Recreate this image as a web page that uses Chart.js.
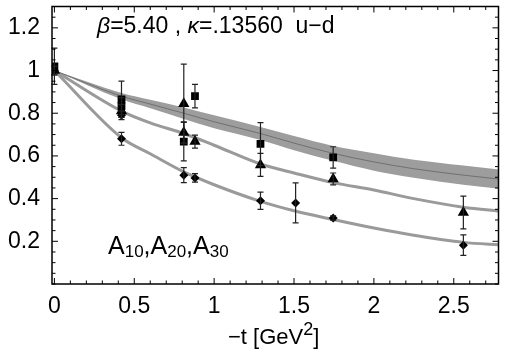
<!DOCTYPE html>
<html>
<head>
<meta charset="utf-8">
<script src="https://cdn.jsdelivr.net/npm/chart.js@4.4.1/dist/chart.umd.min.js"></script>
<style>
  html, body { margin: 0; padding: 0; background: #fff; }
  #wrap { width: 505px; height: 351px; }
</style>
</head>
<body>
<div id="wrap"><canvas id="formFactorChart"></canvas></div>
<script>
// lattice data, x = -t in GeV^2
const tA10 = [0, 0.42, 0.42, 0.81, 0.88, 1.29, 1.745];
const valA10 = [1.02, 0.865, 0.833, 0.667, 0.88, 0.656, 0.593];
const errA10 = [0.085, 0.085, 0.04, 0.09, 0.055, 0.1, 0.05];

const tA20 = [0, 0.42, 0.81, 0.81, 0.88, 1.29, 1.745, 2.56];
const valA20 = [1.0, 0.81, 0.845, 0.71, 0.667, 0.558, 0.492, 0.335];
const errA20 = [0.02, 0.03, 0.185, 0.05, 0.03, 0.054, 0.028, 0.077];

const tA30 = [0, 0.42, 0.42, 0.81, 0.88, 1.29, 1.51, 1.745, 2.56];
const valA30 = [1.0, 0.79, 0.68, 0.51, 0.497, 0.39, 0.38, 0.309, 0.182];
const errA30 = [0.02, 0.02, 0.03, 0.035, 0.02, 0.04, 0.094, 0.01, 0.048];

// dipole fits
const tFit = [0, 0.42, 0.6, 0.81, 1.0, 1.29, 1.5, 1.745, 2.0, 2.25, 2.56, 2.8];
const fitA10 = [1, 0.88, 0.843, 0.80, 0.76, 0.705, 0.66, 0.612, 0.572, 0.54, 0.51, 0.49];
const fitA10Hi = [1, 0.895, 0.863, 0.827, 0.79, 0.735, 0.693, 0.647, 0.613, 0.582, 0.555, 0.535];
const fitA10Lo = [1, 0.865, 0.823, 0.773, 0.73, 0.675, 0.627, 0.577, 0.531, 0.498, 0.465, 0.445];
const fitA20 = [1, 0.81, 0.755, 0.705, 0.65, 0.562, 0.52, 0.475, 0.44, 0.4, 0.36, 0.34];
const fitA30 = [1, 0.685, 0.61, 0.525, 0.465, 0.387, 0.343, 0.302, 0.262, 0.228, 0.195, 0.183];

const FONT = '"Liberation Sans", Arial, Helvetica, sans-serif';

const pts = (xs, ys) => xs.map((x, i) => ({ x: x, y: ys[i] }));

const errorBars = {
  id: 'errorBars',
  afterDatasetsDraw(chart) {
    const { ctx, scales: { x, y } } = chart;
    ctx.save();
    ctx.strokeStyle = '#222';
    ctx.lineWidth = 1.2;
    [[tA10, valA10, errA10], [tA20, valA20, errA20], [tA30, valA30, errA30]].forEach(([ts, vs, es]) => {
      ts.forEach((t, i) => {
        const px = x.getPixelForValue(t);
        const top = y.getPixelForValue(vs[i] + es[i]);
        const bot = y.getPixelForValue(vs[i] - es[i]);
        ctx.beginPath();
        ctx.moveTo(px, top); ctx.lineTo(px, bot);
        ctx.moveTo(px - 3, top); ctx.lineTo(px + 3, top);
        ctx.moveTo(px - 3, bot); ctx.lineTo(px + 3, bot);
        ctx.stroke();
      });
    });
    ctx.restore();
  }
};

// frame with inward ticks, like the original
const frame = {
  id: 'frame',
  afterDraw(chart) {
    const { ctx, chartArea: a, scales: { x, y } } = chart;
    ctx.save();
    ctx.strokeStyle = '#000';
    ctx.lineWidth = 1.5;
    ctx.strokeRect(a.left, a.top, a.right - a.left, a.bottom - a.top);
    ctx.lineWidth = 1;
    ctx.beginPath();
    x.ticks.forEach(tk => {
      const px = x.getPixelForValue(tk.value);
      const len = tk.label ? 6 : 3.5;
      ctx.moveTo(px, a.bottom); ctx.lineTo(px, a.bottom - len);
      ctx.moveTo(px, a.top); ctx.lineTo(px, a.top + len);
    });
    y.ticks.forEach(tk => {
      const py = y.getPixelForValue(tk.value);
      const len = tk.label ? 6 : 3.5;
      ctx.moveTo(a.left, py); ctx.lineTo(a.left + len, py);
      ctx.moveTo(a.right, py); ctx.lineTo(a.right - len, py);
    });
    ctx.stroke();
    ctx.restore();
  }
};

const textLabels = {
  id: 'textLabels',
  afterDraw(chart) {
    const ctx = chart.ctx;
    ctx.save();
    ctx.fillStyle = '#000';
    ctx.textBaseline = 'alphabetic';

    // run of text pieces squeezed to a given width
    const run = (parts, x0, base, width) => {
      let total = 0;
      parts.forEach(p => { ctx.font = p.font; total += ctx.measureText(p.txt).width; });
      const k = Math.min(1, width / total);
      ctx.save();
      ctx.translate(x0, 0);
      ctx.scale(k, 1);
      let xp = 0;
      parts.forEach(p => {
        ctx.font = p.font;
        ctx.fillText(p.txt, xp, base + (p.dy || 0));
        xp += ctx.measureText(p.txt).width;
      });
      ctx.restore();
    };

    run([
      { txt: 'β', font: 'italic 23px ' + FONT },
      { txt: '=5.40 , ', font: '23px ' + FONT },
      { txt: 'κ', font: 'italic 23px ' + FONT },
      { txt: '=.13560  u−d', font: '23px ' + FONT }
    ], 97, 33, 240);

    run([
      { txt: 'A', font: '25px ' + FONT },
      { txt: '10', font: '17px ' + FONT, dy: 3 },
      { txt: ',A', font: '25px ' + FONT },
      { txt: '20', font: '17px ' + FONT, dy: 3 },
      { txt: ',A', font: '25px ' + FONT },
      { txt: '30', font: '17px ' + FONT, dy: 3 }
    ], 108, 254, 124);

    // axis title with a raised 2
    run([
      { txt: '−t [GeV', font: '22px ' + FONT },
      { txt: '2', font: '18px ' + FONT, dy: -9 },
      { txt: ']', font: '22px ' + FONT }
    ], 228, 344, 100);

    ctx.restore();
  }
};

const ctx = document.getElementById('formFactorChart').getContext('2d');

new Chart(ctx, {
  type: 'scatter',
  data: {
    datasets: [
      {
        label: 'A10',
        data: pts(tA10, valA10),
        pointStyle: 'rect',
        pointRadius: 5.5,
        backgroundColor: '#000',
        borderColor: '#000',
        borderWidth: 0,
        order: 0
      },
      {
        label: 'A20',
        data: pts(tA20, valA20),
        pointStyle: 'triangle',
        pointRadius: 6.5,
        backgroundColor: '#000',
        borderColor: '#000',
        borderWidth: 0,
        order: 0
      },
      {
        label: 'A30',
        data: pts(tA30, valA30),
        pointStyle: 'rectRot',
        pointRadius: 4.5,
        backgroundColor: '#000',
        borderColor: '#000',
        borderWidth: 0,
        order: 0
      },
      {
        type: 'line',
        label: 'A10 fit',
        data: pts(tFit, fitA10),
        borderColor: '#707070',
        borderWidth: 1,
        pointRadius: 0,
        cubicInterpolationMode: 'monotone',
        order: 1
      },
      {
        type: 'line',
        label: 'A20 fit',
        data: pts(tFit, fitA20),
        borderColor: '#9a9a9a',
        borderWidth: 3,
        pointRadius: 0,
        cubicInterpolationMode: 'monotone',
        order: 1
      },
      {
        type: 'line',
        label: 'A30 fit',
        data: pts(tFit, fitA30),
        borderColor: '#9a9a9a',
        borderWidth: 3,
        pointRadius: 0,
        cubicInterpolationMode: 'monotone',
        order: 1
      },
      {
        type: 'line',
        label: 'A10 upper',
        data: pts(tFit, fitA10Hi),
        borderColor: 'rgba(0,0,0,0)',
        borderWidth: 0,
        pointRadius: 0,
        cubicInterpolationMode: 'monotone',
        fill: false,
        order: 2
      },
      {
        type: 'line',
        label: 'A10 lower',
        data: pts(tFit, fitA10Lo),
        borderColor: 'rgba(0,0,0,0)',
        borderWidth: 0,
        pointRadius: 0,
        cubicInterpolationMode: 'monotone',
        fill: '-1',
        backgroundColor: '#9d9d9d',
        order: 2
      }
    ]
  },
  options: {
    responsive: true,
    maintainAspectRatio: false,
    animation: false,
    layout: { padding: { top: 4, right: 0, left: 0, bottom: 0 } },
    plugins: {
      legend: { display: false },
      tooltip: { enabled: false }
    },
    scales: {
      x: {
        type: 'linear',
        min: -0.015,
        max: 2.78,
        border: { display: false },
        grid: { display: false, drawTicks: false },
        ticks: {
          stepSize: 0.1,
          includeBounds: false,
          autoSkip: false,
          maxRotation: 0,
          padding: 9,
          color: '#000',
          font: { size: 23, family: FONT },
          callback: (v) => {
            const r = Math.round(v * 10);
            return r % 5 === 0 ? String(r / 10) : '';
          }
        },
        title: { display: false },
        afterFit: (s) => { s.height = 67; s.paddingLeft = 0; s.paddingRight = 0; }
      },
      y: {
        min: 0,
        max: 1.3,
        border: { display: false },
        grid: { display: false, drawTicks: false },
        ticks: {
          stepSize: 0.05,
          autoSkip: false,
          padding: 12,
          color: '#000',
          font: { size: 23, family: FONT },
          callback: (v) => {
            const r = Math.round(v * 100);
            return (r > 0 && r % 20 === 0) ? String(r / 100) : '';
          }
        },
        afterFit: (s) => { s.width = 52; s.paddingTop = 0; s.paddingBottom = 0; }
      }
    }
  },
  plugins: [errorBars, frame, textLabels]
});
</script>
</body>
</html>
